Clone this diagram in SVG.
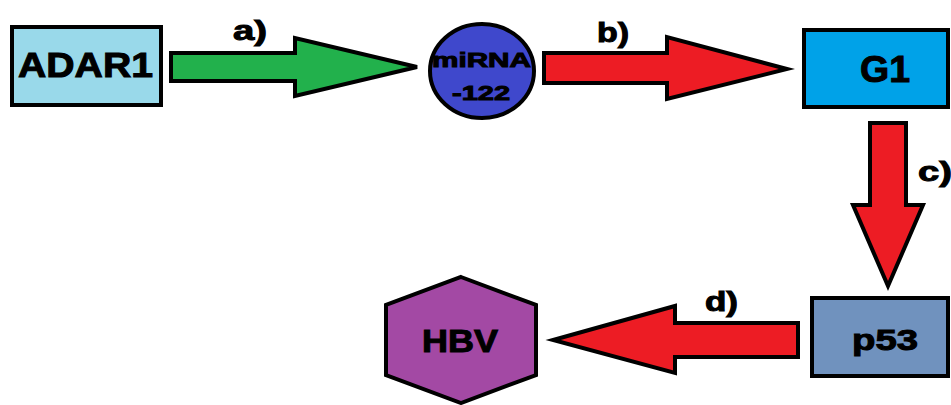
<svg xmlns="http://www.w3.org/2000/svg" width="951" height="405" viewBox="0 0 951 405">
<style>
.s{stroke:#000;stroke-width:4;stroke-linejoin:miter}
.t{font-family:"Liberation Sans",Arial,sans-serif;font-weight:bold;fill:#000;stroke:#000;stroke-width:1}
.red{fill:#ED1C24}
</style>
<rect width="951" height="405" fill="#fff"/>
<g id="connectors">
<g id="arrow-a">
<polygon class="s" fill="#22B14C" points="171,53 295,53 295,38 417,67 295,96 295,81 171,81"/>
<text class="t" x="233" y="40" font-size="27" textLength="34" lengthAdjust="spacingAndGlyphs">a)</text>
</g>
<g id="arrow-b">
<polygon class="s red" points="544,53 667,53 667,37 787,69 667,99 667,83 544,83"/>
<text class="t" x="597" y="42" font-size="27" textLength="32" lengthAdjust="spacingAndGlyphs">b)</text>
</g>
<g id="arrow-c">
<polygon class="s red" points="870,123 906,123 906,205 923,205 888,286 853,205 870,205"/>
<text class="t" x="918" y="181" font-size="27" textLength="34" lengthAdjust="spacingAndGlyphs">c)</text>
</g>
<g id="arrow-d">
<polygon class="s red" points="798,323 675,323 675,306 553,340 675,373 675,357 798,357"/>
<text class="t" x="705" y="311" font-size="27" textLength="33" lengthAdjust="spacingAndGlyphs">d)</text>
</g>
</g>
<g id="ADAR1">
<rect class="s" fill="#99D9EA" x="12" y="27" width="149" height="78"/>
<text class="t" x="18" y="77" font-size="35" textLength="135" lengthAdjust="spacingAndGlyphs">ADAR1</text>
</g>
<g id="miRNA-122">
<ellipse class="s" fill="#3F48CC" cx="482" cy="71" rx="52" ry="47"/>
<text class="t" x="432" y="67" font-size="21" textLength="99" lengthAdjust="spacingAndGlyphs">miRNA</text>
<text class="t" x="452" y="100" font-size="21" textLength="58" lengthAdjust="spacingAndGlyphs">-122</text>
</g>
<g id="G1">
<rect class="s" fill="#00A2E8" x="804" y="30" width="144" height="77"/>
<text class="t" x="860" y="82" font-size="37" textLength="50" lengthAdjust="spacingAndGlyphs">G1</text>
</g>
<g id="p53">
<rect class="s" fill="#7092BE" x="812" y="298" width="136" height="78"/>
<text class="t" x="852" y="350" font-size="30" textLength="66" lengthAdjust="spacingAndGlyphs">p53</text>
</g>
<g id="HBV">
<polygon class="s" fill="#A349A4" points="461,277 536,305 536,375 461,403 386,375 386,305"/>
<text class="t" x="422" y="352" font-size="32" textLength="76" lengthAdjust="spacingAndGlyphs">HBV</text>
</g>
</svg>
